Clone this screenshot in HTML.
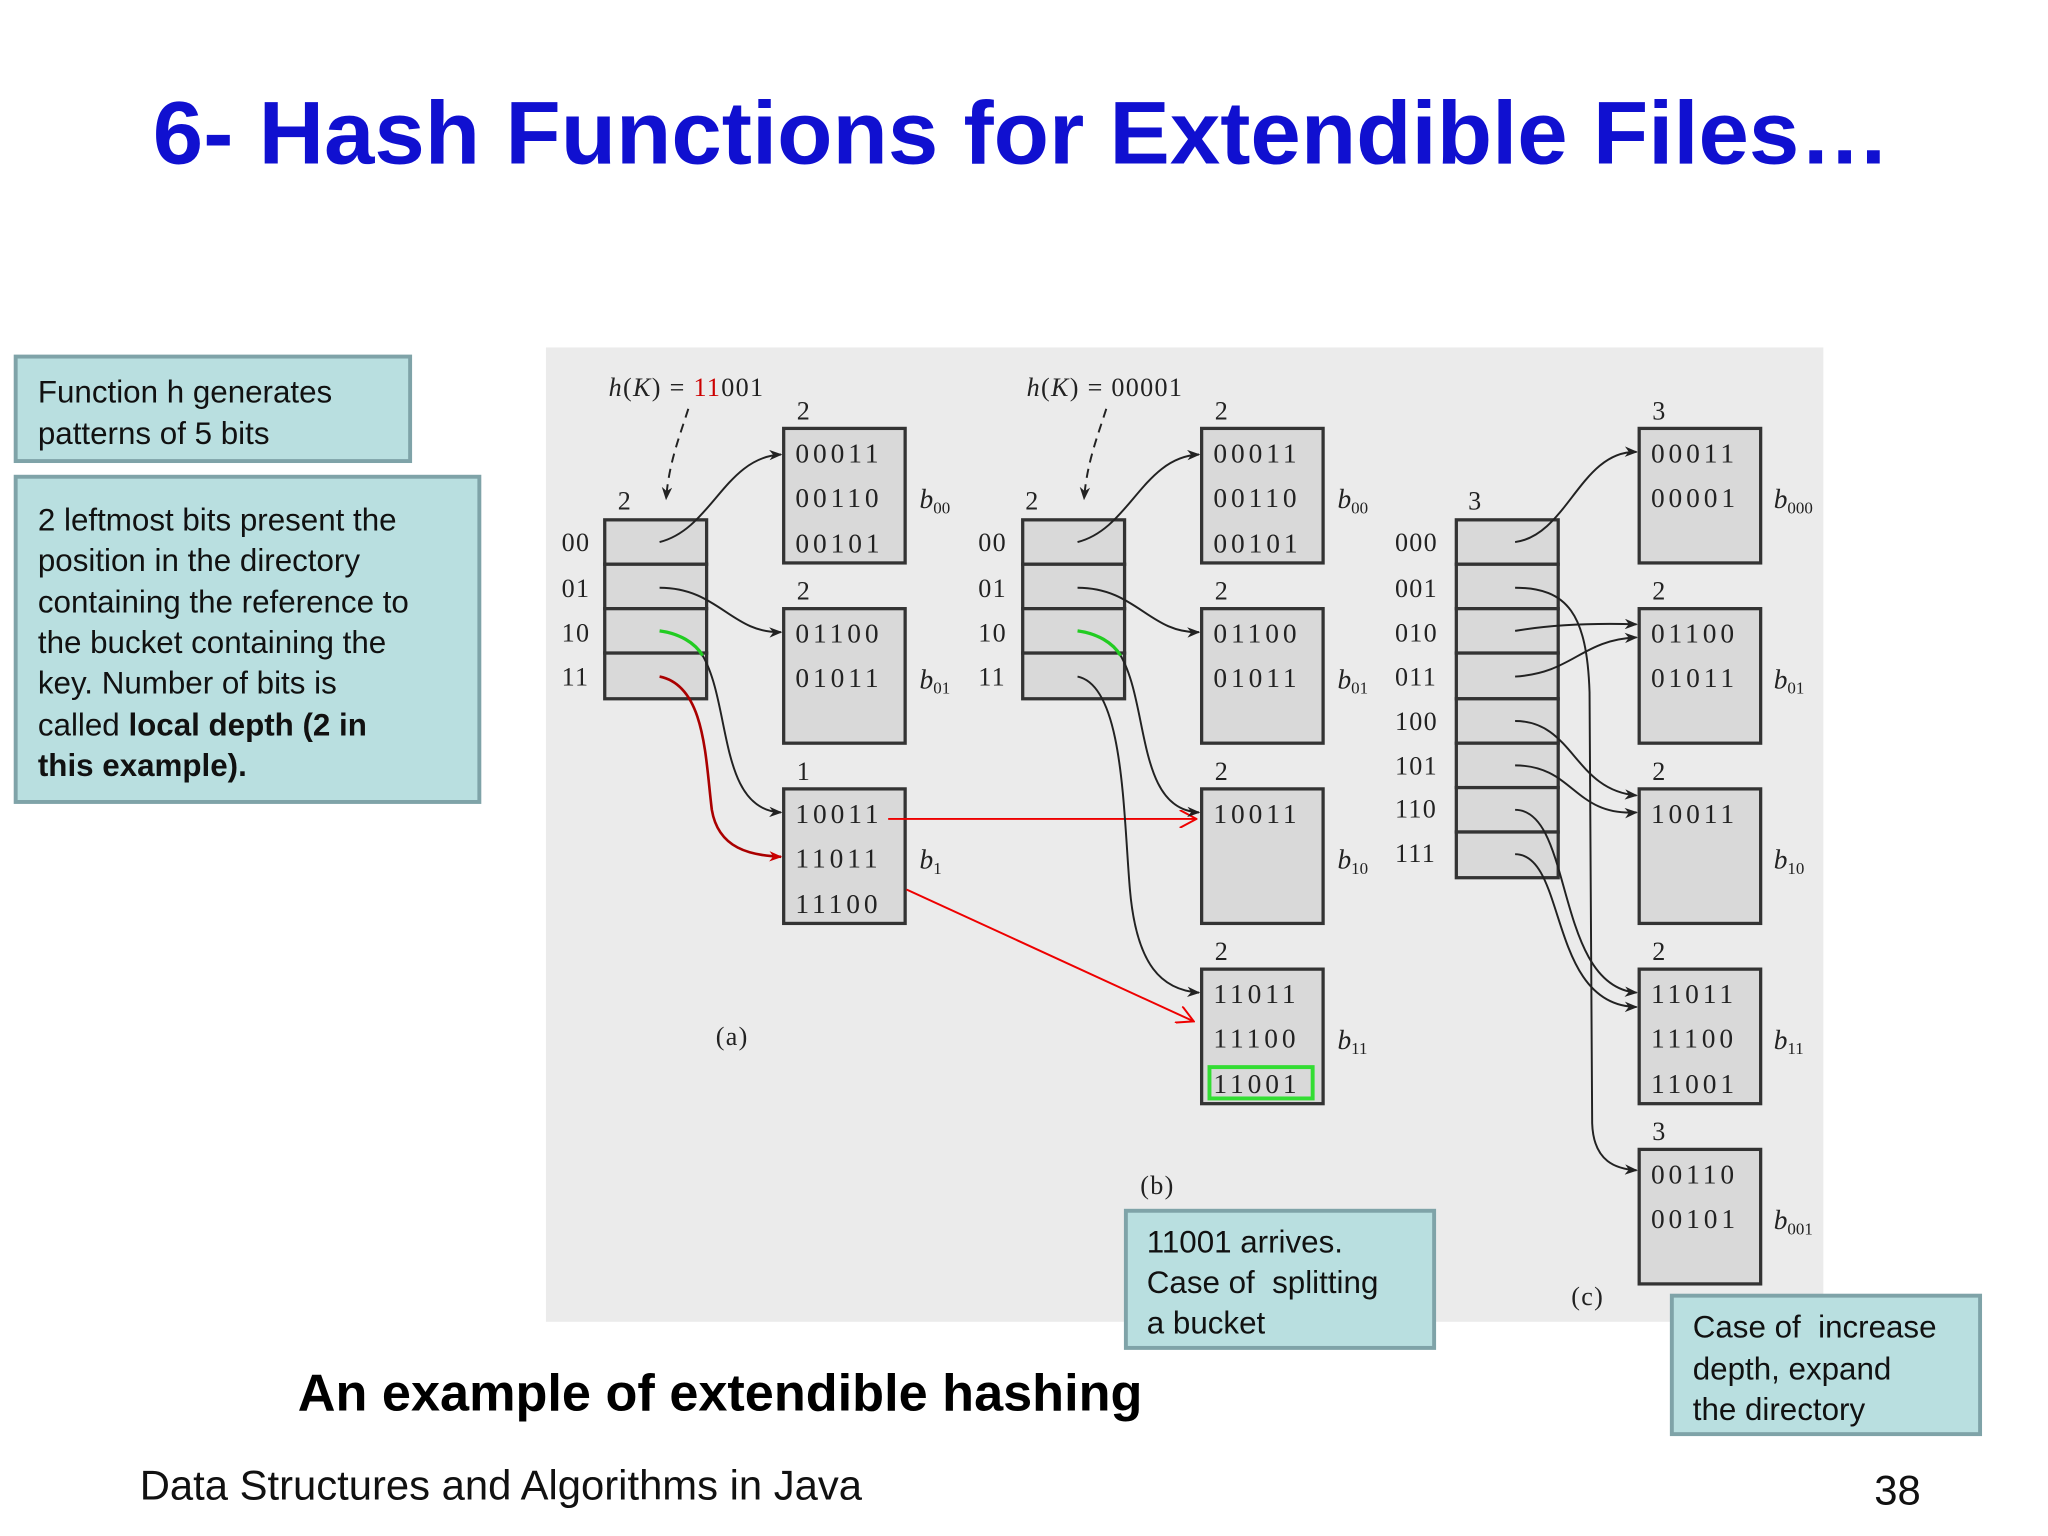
<!DOCTYPE html>
<html><head><meta charset="utf-8"><style>
html,body{margin:0;padding:0;background:#fff;}
svg{display:block;}
.s{font-family:"Liberation Sans",sans-serif;}
.m{font-family:"Liberation Serif",serif;font-size:21px;fill:#222;letter-spacing:3px;}
.l{font-family:"Liberation Serif",serif;font-size:20px;fill:#222;letter-spacing:1px;}
.b{font-family:"Liberation Serif",serif;font-style:italic;font-size:21px;fill:#222;}
.sub{font-size:13px;font-style:normal;}
.bk{fill:#d9d9d9;stroke:#333;stroke-width:2.5;}
.c{fill:none;stroke:#222;stroke-width:1.5;}
</style></head><body>
<svg width="2048" height="1536" viewBox="0 0 1568 1176" preserveAspectRatio="none" xmlns="http://www.w3.org/2000/svg">
<defs>
<marker id="a" markerWidth="10" markerHeight="8" refX="9" refY="4" orient="auto" markerUnits="userSpaceOnUse"><path d="M0,0 L10,4 L0,8 L3,4 Z" fill="#222"/></marker>
<marker id="r" markerWidth="14" markerHeight="14" refX="13" refY="7" orient="auto" markerUnits="userSpaceOnUse"><path d="M0,0 L13,7 L0,14" fill="none" stroke="#e00" stroke-width="1.5"/></marker>
<marker id="rf" markerWidth="10" markerHeight="8" refX="9" refY="4" orient="auto" markerUnits="userSpaceOnUse"><path d="M0,0 L10,4 L0,8 L3,4 Z" fill="#c00"/></marker>
</defs>
<text x="782" y="125" text-anchor="middle" class="s" font-size="68" font-weight="bold" fill="#1010d0" textLength="1330" lengthAdjust="spacingAndGlyphs">6- Hash Functions for Extendible Files…</text>
<rect x="418" y="266" width="978" height="746" fill="#ebebeb"/>

<!-- (a) -->
<text x="466" y="303" class="l"><tspan font-style="italic">h</tspan>(<tspan font-style="italic">K</tspan>) = <tspan fill="#c00">11</tspan>001</text>
<path d="M527,313 C520,335 512,355 510,382" class="c" stroke-dasharray="7,5" marker-end="url(#a)"/>
<text x="473" y="390" class="l">2</text>
<g class="bk"><rect x="463" y="398" width="78" height="34"/><rect x="463" y="432" width="78" height="34"/><rect x="463" y="466" width="78" height="34"/><rect x="463" y="500" width="78" height="35"/></g>
<text x="430" y="422" class="l">00</text><text x="430" y="457" class="l">01</text><text x="430" y="491" class="l">10</text><text x="430" y="525" class="l" fill="#c00">11</text>
<text x="610" y="321" class="l">2</text><rect x="600" y="328" width="93" height="103" class="bk"/>
<text x="609" y="354" class="m">00011</text><text x="609" y="388" class="m">00110</text><text x="609" y="423" class="m">00101</text>
<text x="704" y="389" class="b">b<tspan class="sub" dy="4">00</tspan></text>
<text x="610" y="459" class="l">2</text><rect x="600" y="466" width="93" height="103" class="bk"/>
<text x="609" y="492" class="m">01100</text><text x="609" y="526" class="m">01011</text>
<text x="704" y="527" class="b">b<tspan class="sub" dy="4">01</tspan></text>
<text x="610" y="597" class="l">1</text><rect x="600" y="604" width="93" height="103" class="bk"/>
<text x="609" y="630" class="m">10011</text><text x="609" y="664" class="m">11011</text><text x="609" y="699" class="m">11100</text>
<text x="704" y="665" class="b">b<tspan class="sub" dy="4">1</tspan></text>
<path d="M505,415 C545,405 555,350 598,348" class="c" marker-end="url(#a)"/>
<path d="M505,450 C550,450 560,485 598,484" class="c" marker-end="url(#a)"/>
<path d="M505,483 C520,485 532,492 538,502" fill="none" stroke="#2c2" stroke-width="2.5"/>
<path d="M538,502 C560,540 550,620 598,622" class="c" marker-end="url(#a)"/>
<path d="M505,518 C540,525 540,580 545,620 C550,650 575,655 598,656" fill="none" stroke="#a00" stroke-width="2" marker-end="url(#rf)"/>
<path d="M680,627 L916,627" fill="none" stroke="#e00" stroke-width="1.5" marker-end="url(#r)"/>
<path d="M694,681 L914,782" fill="none" stroke="#e00" stroke-width="1.5" marker-end="url(#r)"/>
<text x="548" y="800" class="l">(a)</text>

<!-- (b) -->
<text x="786" y="303" class="l"><tspan font-style="italic">h</tspan>(<tspan font-style="italic">K</tspan>) = 00001</text>
<path d="M847,313 C840,335 832,355 830,382" class="c" stroke-dasharray="7,5" marker-end="url(#a)"/>
<text x="785" y="390" class="l">2</text>
<g class="bk"><rect x="783" y="398" width="78" height="34"/><rect x="783" y="432" width="78" height="34"/><rect x="783" y="466" width="78" height="34"/><rect x="783" y="500" width="78" height="35"/></g>
<text x="749" y="422" class="l">00</text><text x="749" y="457" class="l">01</text><text x="749" y="491" class="l">10</text><text x="749" y="525" class="l">11</text>
<text x="930" y="321" class="l">2</text><rect x="920" y="328" width="93" height="103" class="bk"/>
<text x="929" y="354" class="m">00011</text><text x="929" y="388" class="m">00110</text><text x="929" y="423" class="m">00101</text>
<text x="1024" y="389" class="b">b<tspan class="sub" dy="4">00</tspan></text>
<text x="930" y="459" class="l">2</text><rect x="920" y="466" width="93" height="103" class="bk"/>
<text x="929" y="492" class="m">01100</text><text x="929" y="526" class="m">01011</text>
<text x="1024" y="527" class="b">b<tspan class="sub" dy="4">01</tspan></text>
<text x="930" y="597" class="l">2</text><rect x="920" y="604" width="93" height="103" class="bk"/>
<text x="929" y="630" class="m">10011</text>
<text x="1024" y="665" class="b">b<tspan class="sub" dy="4">10</tspan></text>
<text x="930" y="735" class="l">2</text><rect x="920" y="742" width="93" height="103" class="bk"/>
<text x="929" y="768" class="m">11011</text><text x="929" y="802" class="m">11100</text><text x="929" y="837" class="m">11001</text>
<rect x="926" y="817" width="79" height="24" fill="none" stroke="#3d3" stroke-width="3"/>
<text x="1024" y="803" class="b">b<tspan class="sub" dy="4">11</tspan></text>
<path d="M825,415 C865,405 875,350 918,348" class="c" marker-end="url(#a)"/>
<path d="M825,450 C870,450 880,485 918,484" class="c" marker-end="url(#a)"/>
<path d="M825,483 C840,485 852,492 858,502" fill="none" stroke="#2c2" stroke-width="2.5"/>
<path d="M858,502 C880,540 870,620 918,622" class="c" marker-end="url(#a)"/>
<path d="M825,518 C860,525 860,620 865,680 C870,740 890,758 918,760" class="c" marker-end="url(#a)"/>
<text x="873" y="914" class="l">(b)</text>

<!-- (c) -->
<text x="1124" y="390" class="l">3</text>
<g class="bk"><rect x="1115" y="398" width="78" height="34"/><rect x="1115" y="432" width="78" height="34"/><rect x="1115" y="466" width="78" height="34"/><rect x="1115" y="500" width="78" height="35"/><rect x="1115" y="535" width="78" height="34"/><rect x="1115" y="569" width="78" height="34"/><rect x="1115" y="603" width="78" height="34"/><rect x="1115" y="637" width="78" height="35"/></g>
<text x="1068" y="422" class="l">000</text><text x="1068" y="457" class="l">001</text><text x="1068" y="491" class="l">010</text><text x="1068" y="525" class="l">011</text>
<text x="1068" y="559" class="l">100</text><text x="1068" y="593" class="l">101</text><text x="1068" y="626" class="l">110</text><text x="1068" y="660" class="l">111</text>
<text x="1265" y="321" class="l">3</text><rect x="1255" y="328" width="93" height="103" class="bk"/>
<text x="1264" y="354" class="m">00011</text><text x="1264" y="388" class="m">00001</text>
<text x="1358" y="389" class="b">b<tspan class="sub" dy="4">000</tspan></text>
<text x="1265" y="459" class="l">2</text><rect x="1255" y="466" width="93" height="103" class="bk"/>
<text x="1264" y="492" class="m">01100</text><text x="1264" y="526" class="m">01011</text>
<text x="1358" y="527" class="b">b<tspan class="sub" dy="4">01</tspan></text>
<text x="1265" y="597" class="l">2</text><rect x="1255" y="604" width="93" height="103" class="bk"/>
<text x="1264" y="630" class="m">10011</text>
<text x="1358" y="665" class="b">b<tspan class="sub" dy="4">10</tspan></text>
<text x="1265" y="735" class="l">2</text><rect x="1255" y="742" width="93" height="103" class="bk"/>
<text x="1264" y="768" class="m">11011</text><text x="1264" y="802" class="m">11100</text><text x="1264" y="837" class="m">11001</text>
<text x="1358" y="803" class="b">b<tspan class="sub" dy="4">11</tspan></text>
<text x="1265" y="873" class="l">3</text><rect x="1255" y="880" width="93" height="103" class="bk"/>
<text x="1264" y="906" class="m">00110</text><text x="1264" y="940" class="m">00101</text>
<text x="1358" y="941" class="b">b<tspan class="sub" dy="4">001</tspan></text>
<path d="M1160,415 C1200,410 1210,345 1253,346" class="c" marker-end="url(#a)"/>
<path d="M1160,450 C1200,450 1215,470 1217,530 L1219,860 C1220,890 1238,895 1253,896" class="c" marker-end="url(#a)"/>
<path d="M1160,483 C1190,478 1220,477 1253,478" class="c" marker-end="url(#a)"/>
<path d="M1160,518 C1205,515 1210,490 1253,488" class="c" marker-end="url(#a)"/>
<path d="M1160,552 C1205,552 1205,605 1253,609" class="c" marker-end="url(#a)"/>
<path d="M1160,586 C1205,586 1205,625 1253,622" class="c" marker-end="url(#a)"/>
<path d="M1160,620 C1205,620 1190,755 1253,760" class="c" marker-end="url(#a)"/>
<path d="M1160,654 C1200,654 1185,770 1253,771" class="c" marker-end="url(#a)"/>
<text x="1203" y="999" class="l">(c)</text>

<!-- callouts -->
<g fill="#b9dfe0" stroke="#7fa3a8" stroke-width="3">
<rect x="12" y="273" width="302" height="80"/>
<rect x="12" y="365" width="355" height="249"/>
<rect x="862" y="927" width="236" height="105"/>
<rect x="1280" y="992" width="236" height="106"/>
</g>
<g class="s" font-size="24" fill="#111">
<text x="29" y="308">Function h generates</text>
<text x="29" y="340">patterns of 5 bits</text>
<text x="29" y="406">2 leftmost bits present the</text>
<text x="29" y="437">position in the directory</text>
<text x="29" y="469">containing the reference to</text>
<text x="29" y="500">the bucket containing the</text>
<text x="29" y="531">key. Number of bits is</text>
<text x="29" y="563">called <tspan font-weight="bold">local depth (2 in</tspan></text>
<text x="29" y="594" font-weight="bold">this example).</text>
<text x="878" y="959">11001 arrives.</text>
<text x="878" y="990">Case of&#160; splitting</text>
<text x="878" y="1021">a bucket</text>
<text x="1296" y="1024">Case of&#160; increase</text>
<text x="1296" y="1056">depth, expand</text>
<text x="1296" y="1087">the directory</text>
</g>
<text x="228" y="1080" class="s" font-size="40" font-weight="bold" fill="#000">An example of extendible hashing</text>
<text x="107" y="1148" class="s" font-size="32" fill="#111">Data Structures and Algorithms in Java</text>
<text x="1435" y="1152" class="s" font-size="32" fill="#111">38</text>
</svg>
</body></html>
